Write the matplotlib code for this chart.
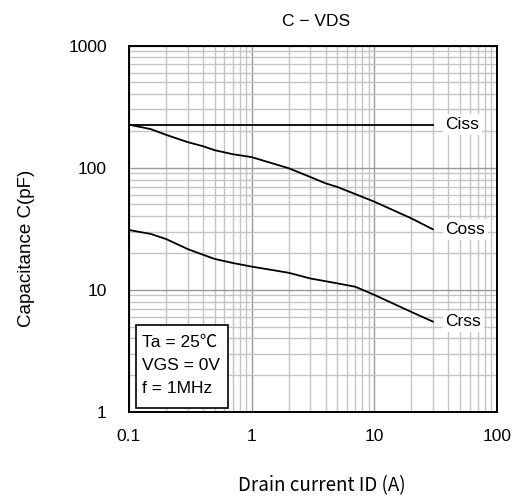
import matplotlib
matplotlib.use("Agg")
import matplotlib.pyplot as plt
from matplotlib.patches import Rectangle
from matplotlib.ticker import LogLocator, NullFormatter, FixedLocator, FixedFormatter

plt.rcParams['font.family'] = ['Liberation Sans', 'Noto Sans CJK JP', 'DejaVu Sans']

# Capacitance curves (pF) vs drain current (A)
ciss_x = [0.1, 1, 10, 30]
ciss_y = [225, 225, 225, 225]

coss_x = [0.1, 0.15, 0.2, 0.3, 0.4, 0.5, 0.7, 1, 2, 3, 4, 5, 10, 20, 30]
coss_y = [225, 207, 186, 162, 150, 139, 129, 122, 99, 84, 74.5, 69.5, 52.7, 38.5, 31.3]

crss_x = [0.1, 0.15, 0.2, 0.3, 0.4, 0.5, 0.7, 1, 2, 3, 5, 7, 10, 20, 30]
crss_y = [30.9, 28.7, 26.1, 21.6, 19.4, 17.9, 16.6, 15.5, 13.8, 12.4, 11.3, 10.6, 9.1, 6.6, 5.5]

curve_names = ["Ciss", "Coss", "Crss"]
label_y = [225, 31.3, 5.5]
label_x = 38

x_ticks = [0.1, 1, 10, 100]
x_ticklabels = ["0.1", "1", "10", "100"]
y_ticks = [1, 10, 100, 1000]
y_ticklabels = ["1", "10", "100", "1000"]

conditions = ["Ta = 25℃", "VGS = 0V", "f = 1MHz"]

fs = 12.5
fig = plt.figure(figsize=(5.17, 4.99), dpi=100)
ax = fig.add_axes([0.2495, 0.1743, 0.7118, 0.7345])
ax.set_xscale("log")
ax.set_yscale("log")
ax.set_xlim(0.1, 100)
ax.set_ylim(1, 1000)

ax.xaxis.set_major_locator(FixedLocator(x_ticks))
ax.xaxis.set_major_formatter(FixedFormatter(x_ticklabels))
ax.yaxis.set_major_locator(FixedLocator(y_ticks))
ax.yaxis.set_major_formatter(FixedFormatter(y_ticklabels))
ax.xaxis.set_minor_locator(LogLocator(base=10, subs=range(2, 10)))
ax.yaxis.set_minor_locator(LogLocator(base=10, subs=range(2, 10)))
ax.xaxis.set_minor_formatter(NullFormatter())
ax.yaxis.set_minor_formatter(NullFormatter())

ax.grid(which="major", color="#999999", linewidth=1.0)
ax.grid(which="minor", color="#c4c4c4", linewidth=1.0)
ax.set_axisbelow(True)
ax.tick_params(which="both", length=0, labelsize=fs)
ax.tick_params(axis="y", pad=16)
ax.tick_params(axis="x", pad=12)
for s in ax.spines.values():
    s.set_linewidth(1.4)
    s.set_color("black")

for xs, ys in [(ciss_x, ciss_y), (coss_x, coss_y), (crss_x, crss_y)]:
    ax.plot(xs, ys, color="black", linewidth=1.3, zorder=3)

for name, yv in zip(curve_names, label_y):
    ax.text(label_x, yv, name, fontsize=fs, va="center", ha="left", zorder=4,
            bbox=dict(facecolor="white", edgecolor="none", pad=2))

# measurement conditions box
ax.add_patch(Rectangle((0.019, 0.011), 0.25, 0.226, transform=ax.transAxes,
                       facecolor="white", edgecolor="black", linewidth=1.2, zorder=5))
for i, line in enumerate(conditions):
    ax.text(0.035, 0.191 - i * 0.063, line, transform=ax.transAxes, fontsize=fs,
            va="center", ha="left", zorder=6)

fig.text(0.611, 0.957, "C − VDS", fontsize=fs, ha="center", va="center")
fig.text(0.052, 0.503, "Capacitance C(pF)", fontsize=13.5, rotation=90,
         ha="center", va="center")
fig.text(0.623, 0.026, "Drain current ID (A)", fontsize=13.5, ha="center", va="center",
         family=["Noto Sans CJK JP", "DejaVu Sans"])

fig.savefig("out.png", dpi=100)
